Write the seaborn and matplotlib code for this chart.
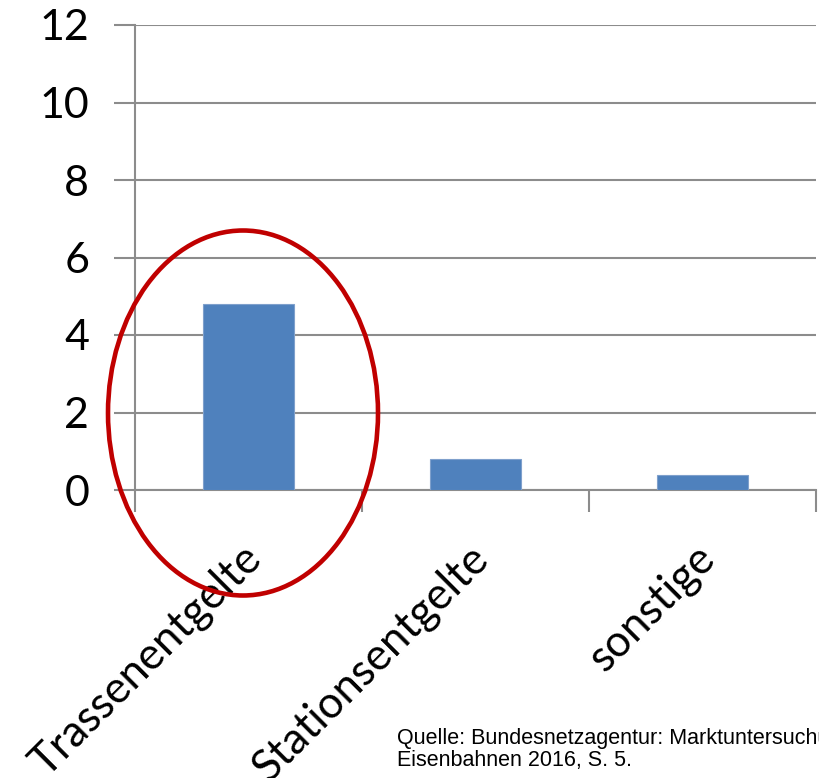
import matplotlib
matplotlib.use("Agg")
import matplotlib.pyplot as plt
from matplotlib.patches import Ellipse
import seaborn as sns
import pandas as pd

# Daten
kategorien = ["Trassenentgelte", "Stationsentgelte", "sonstige"]
werte = [4.8, 0.8, 0.4]
y_ticks = [0, 2, 4, 6, 8, 10, 12]

sns.set_style("white")
plt.rcParams['font.family'] = ['Lato', 'DejaVu Sans']

df = pd.DataFrame({"kategorie": kategorien, "wert": werte})

fig = plt.figure(figsize=(8.2, 7.78), dpi=100)
ax = fig.add_axes([135 / 820, 1 - 490 / 778, 681 / 820, 465 / 778])

sns.barplot(data=df, x="kategorie", y="wert", color="#4F81BD", width=0.4,
            saturation=1, edgecolor="#7FA0CC", linewidth=0.8, ax=ax, zorder=3)

ax.set_ylim(0, 12)
ax.set_xlim(-0.5, 2.5)
ax.set_yticks(y_ticks)
ax.yaxis.grid(True, color="#8c8c8c", linewidth=1.5, zorder=0)
ax.set_axisbelow(True)
ax.set_xlabel("")
ax.set_ylabel("")

for s in ["top", "right"]:
    ax.spines[s].set_visible(False)
for s in ["left", "bottom"]:
    ax.spines[s].set_color("#8c8c8c")
    ax.spines[s].set_linewidth(1.5)

ax.tick_params(axis="y", left=True, length=15, width=1.5, color="#8c8c8c",
               labelsize=31, pad=18, labelcolor="black")
# Teilstriche zwischen den Kategorien
ax.set_xticks(range(len(kategorien)))
ax.set_xticks([-0.5, 0.5, 1.5, 2.5], minor=True)
ax.tick_params(axis="x", which="minor", bottom=True, length=16, width=1.5, color="#8c8c8c")
ax.tick_params(axis="x", which="major", bottom=True, length=0, labelsize=31.5, pad=4,
               labelcolor="black")
ax.set_xticklabels(kategorien, rotation=45, ha="right", rotation_mode="anchor")
for lbl in ax.get_xticklabels():
    lbl.set_transform(lbl.get_transform() + matplotlib.transforms.ScaledTranslation(-0.08, -0.42, fig.dpi_scale_trans))

# rote Markierung
ell = Ellipse((243 / 820, 1 - 413 / 778), 270 / 820, 365 / 778, transform=fig.transFigure,
              fill=False, edgecolor="#C00000", linewidth=3.3, zorder=10)
fig.patches.append(ell)

fig.text(397 / 820, 1 - 766 / 778, "Quelle: Bundesnetzagentur: Marktuntersuchung\nEisenbahnen 2016, S. 5.",
         fontsize=15.5, family="Liberation Sans", color="black", va="baseline", linespacing=1.05)

fig.savefig("out.png", dpi=100)
